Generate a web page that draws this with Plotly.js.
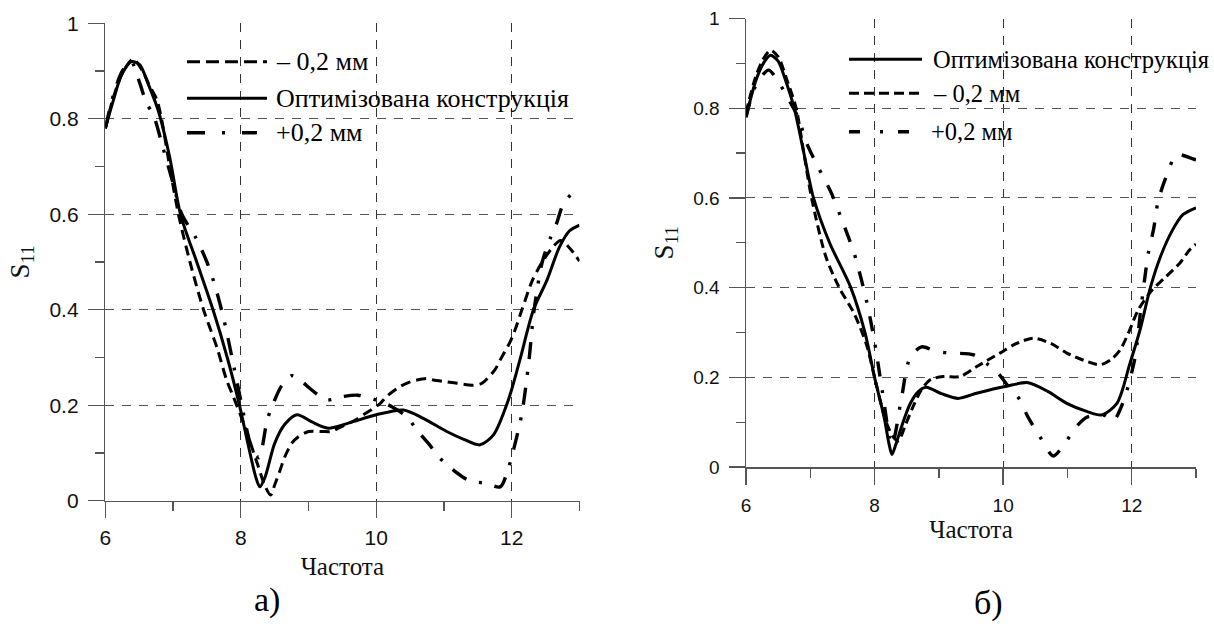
<!DOCTYPE html>
<html>
<head>
<meta charset="utf-8">
<script src="https://cdn.plot.ly/plotly-3.0.1.min.js"></script>
<style>html,body{margin:0;padding:0;background:#fff;}#chart{width:1214px;height:624px;}</style>
</head>
<body>
<div id="chart"></div>
<script>
// ---------- DATA: chart (а) ----------
const xA_opt = [6.0, 6.12, 6.24, 6.39, 6.51, 6.63, 6.78, 6.95, 7.11, 7.35, 7.59, 7.8, 7.98, 8.12, 8.22, 8.28, 8.36, 8.5, 8.65, 8.83, 9.05, 9.29, 9.6, 10.0, 10.4, 10.7, 11.04, 11.3, 11.53, 11.73, 11.95, 12.12, 12.32, 12.52, 12.7, 12.85, 13.0];
const yA_opt = [0.78, 0.839, 0.892, 0.92, 0.913, 0.874, 0.818, 0.72, 0.6, 0.5, 0.4, 0.3, 0.2, 0.11, 0.05, 0.029, 0.05, 0.12, 0.16, 0.18, 0.165, 0.152, 0.163, 0.18, 0.19, 0.172, 0.145, 0.128, 0.117, 0.138, 0.211, 0.295, 0.4, 0.462, 0.53, 0.565, 0.577];

const xA_minus = [6.0, 6.12, 6.25, 6.41, 6.55, 6.65, 6.76, 6.83, 6.95, 7.08, 7.25, 7.45, 7.65, 7.79, 7.89, 8.06, 8.26, 8.36, 8.44, 8.5, 8.58, 8.65, 8.75, 8.85, 9.0, 9.2, 9.34, 9.44, 9.69, 9.81, 10.06, 10.15, 10.35, 10.5, 10.74, 10.84, 11.04, 11.19, 11.43, 11.56, 11.75, 11.83, 12.0, 12.15, 12.3, 12.45, 12.6, 12.72, 12.85, 13.0];
const yA_minus = [0.78, 0.845, 0.895, 0.925, 0.9, 0.87, 0.84, 0.8, 0.7, 0.6, 0.5, 0.4, 0.32, 0.253, 0.218, 0.155, 0.071, 0.03, 0.012, 0.033, 0.064, 0.092, 0.12, 0.134, 0.145, 0.145, 0.145, 0.152, 0.169, 0.18, 0.204, 0.218, 0.239, 0.249, 0.256, 0.253, 0.249, 0.246, 0.242, 0.246, 0.274, 0.295, 0.34, 0.4, 0.46, 0.5, 0.53, 0.545, 0.53, 0.502];

const xA_plus = [6.0, 6.12, 6.25, 6.38, 6.51, 6.61, 6.71, 6.85, 7.0, 7.13, 7.34, 7.5, 7.62, 7.75, 7.87, 8.0, 8.12, 8.2, 8.27, 8.39, 8.48, 8.6, 8.75, 8.9, 9.02, 9.27, 9.49, 9.73, 10.0, 10.23, 10.45, 10.6, 10.77, 10.94, 11.14, 11.36, 11.63, 11.83, 11.95, 12.05, 12.15, 12.25, 12.33, 12.45, 12.57, 12.66, 12.76, 12.96, 13.0];
const yA_plus = [0.78, 0.85, 0.9, 0.92, 0.874, 0.832, 0.808, 0.74, 0.665, 0.6, 0.55, 0.5, 0.45, 0.38, 0.3, 0.21, 0.13, 0.1, 0.09, 0.169, 0.204, 0.24, 0.262, 0.25, 0.235, 0.211, 0.218, 0.221, 0.211, 0.197, 0.176, 0.148, 0.12, 0.089, 0.064, 0.043, 0.036, 0.029, 0.068, 0.12, 0.183, 0.288, 0.4, 0.5, 0.55, 0.58, 0.621, 0.654, 0.657];

// ---------- DATA: chart (б) ----------
const xB_opt = [6.0, 6.15, 6.27, 6.38, 6.5, 6.62, 6.75, 6.9, 7.05, 7.3, 7.63, 7.85, 8.0, 8.15, 8.22, 8.27, 8.33, 8.42, 8.55, 8.68, 8.8, 9.05, 9.3, 9.6, 10.05, 10.39, 10.7, 10.99, 11.3, 11.53, 11.77, 11.97, 12.13, 12.29, 12.45, 12.63, 12.8, 13.0];
const yB_opt = [0.78, 0.86, 0.9, 0.918, 0.905, 0.86, 0.8, 0.7, 0.6, 0.5, 0.4, 0.3, 0.2, 0.11, 0.055, 0.028, 0.05, 0.09, 0.14, 0.168, 0.178, 0.163, 0.153, 0.165, 0.18, 0.188, 0.168, 0.142, 0.124, 0.116, 0.142, 0.23, 0.306, 0.4, 0.47, 0.527, 0.563, 0.578];

const xB_minus = [6.0, 6.15, 6.27, 6.38, 6.5, 6.62, 6.78, 6.9, 7.02, 7.24, 7.45, 7.69, 7.88, 8.0, 8.18, 8.3, 8.37, 8.47, 8.6, 8.72, 8.86, 9.07, 9.33, 9.59, 9.95, 10.2, 10.47, 10.75, 10.99, 11.25, 11.51, 11.68, 11.82, 11.97, 12.1, 12.32, 12.5, 12.75, 12.9, 13.0];
const yB_minus = [0.79, 0.87, 0.91, 0.929, 0.915, 0.87, 0.8, 0.7, 0.6, 0.47, 0.4, 0.34, 0.27, 0.2, 0.1, 0.065, 0.058, 0.09, 0.135, 0.17, 0.194, 0.2016, 0.2016, 0.224, 0.254, 0.275, 0.287, 0.275, 0.254, 0.238, 0.228, 0.24, 0.261, 0.306, 0.35, 0.395, 0.42, 0.455, 0.484, 0.497];

const xB_plus = [6.0, 6.15, 6.35, 6.5, 6.66, 6.81, 6.95, 7.11, 7.33, 7.51, 7.69, 7.88, 8.0, 8.12, 8.27, 8.42, 8.55, 8.73, 8.97, 9.22, 9.54, 9.74, 9.92, 10.1, 10.26, 10.37, 10.57, 10.78, 10.96, 11.14, 11.3, 11.56, 11.71, 11.87, 12.05, 12.14, 12.26, 12.34, 12.41, 12.53, 12.7, 12.95, 13.0];
const yB_plus = [0.78, 0.85, 0.885, 0.86, 0.82, 0.78, 0.72, 0.672, 0.61, 0.544, 0.473, 0.367, 0.279, 0.17, 0.049, 0.155, 0.243, 0.268, 0.257, 0.254, 0.25, 0.231, 0.209, 0.176, 0.15, 0.116, 0.068, 0.0245, 0.053, 0.09, 0.111, 0.116, 0.103, 0.146, 0.243, 0.35, 0.478, 0.53, 0.592, 0.645, 0.696, 0.687, 0.685];

// ---------- TEXT ----------
const nameOpt = 'Оптимізована конструкція';
const nameMinus = '– 0,2 мм';
const namePlus = '+0,2 мм';
const xTitle = 'Частота';
const yTitle = 'S<sub>11</sub>';
const xTickVals = [6, 8, 10, 12];
const captionA = 'а)';
const captionB = 'б)';

// ---------- STYLES ----------
const W = 1214, H = 624;
const px = v => v / W;
const py = v => 1 - v / H;
const serif = 'Liberation Serif';
const sans = 'Liberation Sans';

const dashA = '10px,6px';
const dashDotA = '17px,13px,3px,13px';
const dashB = '9px,5px';
const dashDotB = '15px,14px,3px,14px';

function tr(x, y, xa, ya, dash, w) {
  return {x: x, y: y, xaxis: xa, yaxis: ya, type: 'scatter', mode: 'lines',
    line: {color: '#000', width: w, dash: dash, shape: 'spline', smoothing: 0.8},
    showlegend: false, hoverinfo: 'skip'};
}

const data = [
  tr(xA_minus, yA_minus, 'x', 'y', dashA, 3),
  tr(xA_opt, yA_opt, 'x', 'y', 'solid', 3),
  tr(xA_plus, yA_plus, 'x', 'y', dashDotA, 3.4),
  tr(xB_opt, yB_opt, 'x2', 'y2', 'solid', 3),
  tr(xB_minus, yB_minus, 'x2', 'y2', dashB, 3),
  tr(xB_plus, yB_plus, 'x2', 'y2', dashDotB, 3.4)
];

function xAxis(domain, fs, standoff, labelOff) {
  return {
    domain: domain, range: [6, 13], tickmode: 'array', tickvals: xTickVals,
    ticks: 'outside', ticklen: 16, tickwidth: 1.3, tickcolor: '#555',
    showline: true, linecolor: '#555', linewidth: 1.5,
    showgrid: true, gridcolor: '#333', gridwidth: 1, griddash: '9px,8px',
    zeroline: false,
    minor: {dtick: 1, tick0: 6, ticks: 'outside', ticklen: 9, tickwidth: 1.3, tickcolor: '#555', showgrid: false},
    tickfont: {family: sans, size: fs, color: '#111'},
    ticklabelstandoff: labelOff,
    title: {text: xTitle, font: {family: serif, size: 25, color: '#111'}, standoff: standoff},
    fixedrange: true
  };
}
function yAxis(domain, anchor, fs) {
  return {
    domain: domain, anchor: anchor, range: [0, 1], dtick: 0.2, tick0: 0,
    ticks: 'outside', ticklen: 16, tickwidth: 1.3, tickcolor: '#555',
    showline: true, linecolor: '#555', linewidth: 1.5,
    showgrid: true, gridcolor: '#555', gridwidth: 1, griddash: '9px,8px',
    zeroline: false,
    minor: {dtick: 0.1, tick0: 0, ticks: 'outside', ticklen: 9, tickwidth: 1.3, tickcolor: '#555', showgrid: false},
    tickfont: {family: sans, size: fs, color: '#111'},
    ticklabelstandoff: 5,
    title: {text: yTitle, font: {family: serif, size: 27, color: '#111'}, standoff: 12},
    fixedrange: true
  };
}

// legend drawn manually
const shapes = [];
const annotations = [];
function legendItem(x0, x1, yPix, dash, w, tx, text, fs) {
  shapes.push({type: 'line', xref: 'paper', yref: 'paper', x0: px(x0), x1: px(x1), y0: py(yPix), y1: py(yPix),
    line: {color: '#000', width: w, dash: dash}});
  annotations.push({xref: 'paper', yref: 'paper', x: px(tx), y: py(yPix), xanchor: 'left', yanchor: 'middle',
    text: text, showarrow: false, font: {family: serif, size: fs, color: '#000'}});
}
legendItem(187, 267, 61.7, '13px,6px', 3, 274, nameMinus, 26);
legendItem(187, 267, 98.3, 'solid', 3, 274, nameOpt, 26);
legendItem(187, 257, 132.7, '18px,17px,3px,17px', 3.4, 274, namePlus, 26);

legendItem(849, 922, 59.3, 'solid', 3, 931, nameOpt, 24.5);
legendItem(849, 923, 93.3, '10px,5px', 3, 931, nameMinus, 24.5);
legendItem(849, 915, 131.7, '11px,20px,3px,15px', 3.4, 929, namePlus, 24.5);

annotations.push({xref: 'paper', yref: 'paper', x: px(267), y: py(600), xanchor: 'center', yanchor: 'middle',
  text: captionA, showarrow: false, font: {family: serif, size: 34, color: '#000'}});
annotations.push({xref: 'paper', yref: 'paper', x: px(988), y: py(603), xanchor: 'center', yanchor: 'middle',
  text: captionB, showarrow: false, font: {family: serif, size: 34, color: '#000'}});

const layout = {
  width: W, height: H,
  margin: {l: 0, r: 0, t: 0, b: 0},
  paper_bgcolor: '#fff', plot_bgcolor: '#fff',
  showlegend: false,
  font: {family: serif},
  xaxis: xAxis([px(105.3), px(579.5)], 21, 9, 2),
  yaxis: yAxis([1 - 500.7 / H, 1 - 23.3 / H], 'x', 21),
  xaxis2: Object.assign(xAxis([px(746), px(1196)], 19, 3, 5), {anchor: 'y2'}),
  yaxis2: yAxis([1 - 467 / H, 1 - 18.5 / H], 'x2', 19),
  shapes: shapes,
  annotations: annotations
};
layout.xaxis.anchor = 'y';

Plotly.newPlot('chart', data, layout, {displayModeBar: false, staticPlot: true});
</script>
</body>
</html>
